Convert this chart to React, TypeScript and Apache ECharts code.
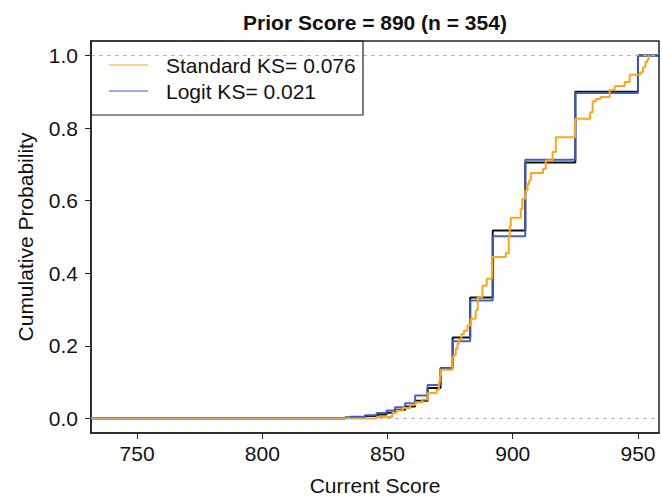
import React, { useEffect, useRef } from "react";
import * as echarts from "echarts";

const titleText = "Prior Score = 890 (n = 354)";
const xName = "Current Score";
const yName = "Cumulative Probability";
const legendLabels = ["Standard KS= 0.076", "Logit KS= 0.021"];

const xTicks = [750, 800, 850, 900, 950];
const yTicks = [0, 0.2, 0.4, 0.6, 0.8, 1.0];

// Observed (black) empirical CDF
const blackX = [731.6, 833, 841, 846, 849.6, 853, 857, 861, 866, 871.2, 876, 883, 892, 905, 925, 950, 958.4];
const blackY = [0, 0.003, 0.007, 0.011, 0.016, 0.024, 0.033, 0.049, 0.084, 0.139, 0.223, 0.333, 0.518, 0.705, 0.9, 1.0, 1.0];

// Logit (blue)
const blueX = [731.6, 820, 835, 841, 845.6, 849.6, 853, 857, 861, 866, 871.2, 876, 883, 892, 905, 925, 950, 958.4];
const blueY = [0.001, 0.002, 0.005, 0.009, 0.015, 0.022, 0.031, 0.042, 0.063, 0.092, 0.139, 0.213, 0.325, 0.502, 0.713, 0.897, 1.0, 1.0];

// Standard (orange)
const orangeX = [
  731.6, 845.6, 851.9, 853.5, 856.1, 859, 861.2, 863.9, 866, 869.6, 870.5, 870.9, 871.3,
  875.9, 876.5, 877.2, 877.9, 878.5, 879.5, 880.5, 881.9, 883.2, 885.2, 886, 887.9, 889.6,
  891.7, 897.2, 898.4, 898.8, 899.2, 903.2, 903.8, 905, 905.9, 906.5, 907.2, 912.1, 913.2,
  915.9, 917.2, 924.9, 930.9, 931.9, 933.2, 935, 938.7, 940.7, 944.7, 946.7, 950.9, 952,
  953, 953.7, 954.3, 954.6,
];
const orangeY = [
  0, 0.004, 0.015, 0.022, 0.029, 0.038, 0.045, 0.052, 0.07, 0.079, 0.1, 0.118, 0.134,
  0.169, 0.175, 0.192, 0.206, 0.217, 0.233, 0.242, 0.256, 0.275, 0.298, 0.334, 0.366, 0.385,
  0.445, 0.455, 0.5, 0.53, 0.553, 0.577, 0.605, 0.628, 0.646, 0.656, 0.676, 0.688, 0.711,
  0.734, 0.775, 0.826, 0.844, 0.874, 0.88, 0.886, 0.905, 0.916, 0.927, 0.947, 0.953, 0.968,
  0.982, 0.989, 1.0, 1.0,
];

const FONT = "'Liberation Sans', Arial, Helvetica, sans-serif";
const FS = 21;
const ORANGE = "#FFA41B";
const BLUE = "#3D5CB8";
const BLACK = "#111111";

const zip = (xs: number[], ys: number[]) => xs.map((x, i) => [x, ys[i]]);

export default function App() {
  const ref = useRef<HTMLDivElement>(null);
  useEffect(() => {
    if (!ref.current) return;
    const chart = echarts.init(ref.current, undefined, { renderer: "svg" });
    const gridLeft = 91;
    const gridTop = 41;
    const gridRight = 659;
    const gridBottom = 433;
    chart.setOption({
      animation: false,
      backgroundColor: "#ffffff",
      textStyle: { fontFamily: FONT },
      grid: {
        left: gridLeft,
        top: gridTop,
        width: gridRight - gridLeft,
        height: gridBottom - gridTop,
        outerBoundsMode: "none",
        containLabel: false,
        show: true,
        borderColor: "#222",
        borderWidth: 1.5,
        backgroundColor: "transparent",
      },
      xAxis: {
        type: "value",
        min: 731.6,
        max: 958.4,
        name: xName,
        nameLocation: "middle",
        nameGap: 42,
        nameTextStyle: { fontSize: FS, lineHeight: 21, color: "#111", fontFamily: FONT },
        splitLine: { show: false },
        axisLine: { show: true, onZero: false, lineStyle: { color: "#222", width: 1.5 } },
        axisTick: { show: true, customValues: xTicks, length: 6, lineStyle: { color: "#222", width: 1 } },
        axisLabel: { customValues: xTicks, fontSize: FS, color: "#111", margin: 10, fontFamily: FONT },
      },
      yAxis: {
        type: "value",
        min: -0.04,
        max: 1.04,
        name: yName,
        nameLocation: "middle",
        nameGap: 55,
        nameTextStyle: { fontSize: FS, lineHeight: 21, color: "#111", fontFamily: FONT },
        splitLine: { show: false },
        axisLine: { show: true, onZero: false, lineStyle: { color: "#222", width: 1.5 } },
        axisTick: { show: true, customValues: yTicks, length: 6, lineStyle: { color: "#222", width: 1 } },
        axisLabel: {
          customValues: yTicks,
          fontSize: FS,
          color: "#111",
          margin: 13,
          fontFamily: FONT,
          formatter: (v: number) => v.toFixed(1),
        },
      },
      series: [
        {
          type: "line",
          name: "Observed",
          step: "end",
          data: zip(blackX, blackY),
          showSymbol: false,
          symbol: "none",
          lineStyle: { color: BLACK, width: 2 },
          z: 2,
          markLine: {
            silent: true,
            symbol: "none",
            label: { show: false },
            lineStyle: { color: "#b5b5b5", type: [4, 4], width: 1 },
            data: [{ yAxis: 0 }, { yAxis: 1 }],
          },
        },
        {
          type: "line",
          name: "Logit",
          step: "end",
          data: zip(blueX, blueY),
          showSymbol: false,
          symbol: "none",
          lineStyle: { color: BLUE, width: 2, opacity: 0.95 },
          z: 3,
        },
        {
          type: "line",
          name: "Standard",
          step: "end",
          data: zip(orangeX, orangeY),
          showSymbol: false,
          symbol: "none",
          lineStyle: { color: ORANGE, width: 2 },
          z: 4,
        },
      ],
      graphic: [
        {
          type: "text",
          x: (gridLeft + gridRight) / 2,
          y: 22,
          style: {
            text: titleText,
            fontSize: FS,
            fontWeight: "bold",
            fontFamily: FONT,
            fill: "#111",
            textAlign: "center",
            textVerticalAlign: "middle",
          },
        },
        {
          type: "rect",
          shape: { x: 91, y: 41, width: 272, height: 74 },
          style: { fill: "none", stroke: "#222", lineWidth: 1.2 },
          z: 10,
        },
        {
          type: "line",
          shape: { x1: 109, y1: 65, x2: 148, y2: 65 },
          style: { stroke: ORANGE, lineWidth: 1 },
          z: 10,
        },
        {
          type: "line",
          shape: { x1: 109, y1: 91, x2: 148, y2: 91 },
          style: { stroke: BLUE, lineWidth: 1 },
          z: 10,
        },
        {
          type: "text",
          x: 166,
          y: 65,
          style: {
            text: legendLabels[0],
            fontSize: FS,
            fontFamily: FONT,
            fill: "#111",
            textAlign: "left",
            textVerticalAlign: "middle",
          },
          z: 10,
        },
        {
          type: "text",
          x: 166,
          y: 91,
          style: {
            text: legendLabels[1],
            fontSize: FS,
            fontFamily: FONT,
            fill: "#111",
            textAlign: "left",
            textVerticalAlign: "middle",
          },
          z: 10,
        },
      ],
    });
    return () => chart.dispose();
  }, []);
  return (
    <div
      ref={ref}
      style={{ position: "fixed", left: 0, top: 0, width: 662, height: 497, background: "#fff" }}
    />
  );
}
